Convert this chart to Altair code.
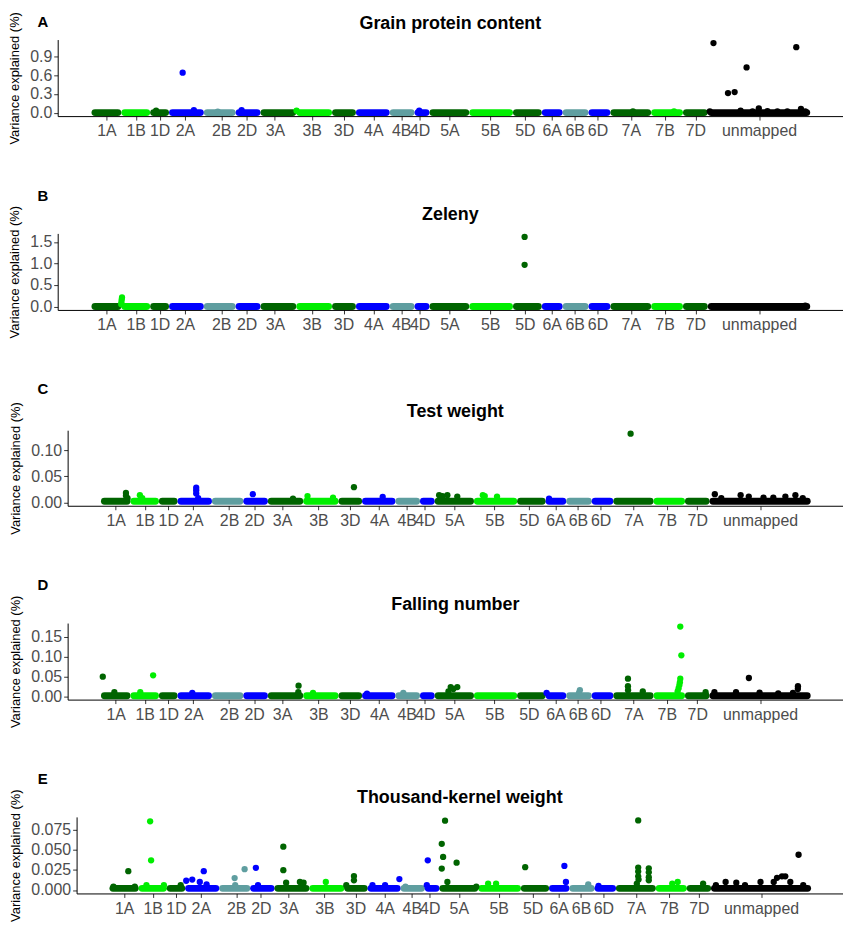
import json
import altair as alt
import pandas as pd

# ---------------- data ----------------
CHROMS = ["1A", "1B", "1D", "2A", "2B", "2D", "3A", "3B", "3D", "4A", "4B", "4D",
          "5A", "5B", "5D", "6A", "6B", "6D", "7A", "7B", "7D", "unmapped"]
CHROM_LEN = [30, 29, 19, 35, 32, 25, 36, 36, 24, 34, 25, 15,
             40, 44, 29, 21, 26, 22, 41, 32, 25, 103]
DKG, LTG, BLU, GRY = "#006400", "#00EE00", "#0000FF", "#5F9EA0"
CHROM_COLORS = [DKG, LTG, DKG, BLU, GRY, BLU, DKG, LTG, DKG, BLU, GRY, BLU,
                DKG, LTG, DKG, BLU, GRY, BLU, DKG, LTG, DKG, "#000000"]
TICK_POS = [15, 44.5, 68.5, 94, 130.5, 156, 184.5, 221.5, 253.5, 283.5, 311.5, 330,
            360, 401, 436, 463, 486, 509, 542.5, 576.5, 607.5, 671.5]

PANEL_LETTERS = ["A", "B", "C", "D", "E"]
PANEL_TITLES = ["Grain protein content", "Zeleny", "Test weight",
                "Falling number", "Thousand-kernel weight"]
BASE_LEVEL = [0.0, 0.0, 0.002, 0.001, 0.002]
Y_TICKS = [[0.0, 0.3, 0.6, 0.9], [0.0, 0.5, 1.0, 1.5], [0.0, 0.05, 0.10],
           [0.0, 0.05, 0.10, 0.15], [0.0, 0.025, 0.05, 0.075]]
Y_FORMATS = [".1f", ".1f", ".2f", ".2f", ".3f"]

# (chromosome, position within chromosome, variance explained)
A_POINTS = [("1D", 6, 0.03), ("2A", 13.7, 0.643), ("2A", 25, 0.04), ("2B", 14, 0.015),
            ("2D", 6, 0.04), ("3B", 0.3, 0.03), ("4D", 4.7, 0.03), ("7A", 22.7, 0.02),
            ("7B", 23, 0.02),
            ("unmapped", 5.7, 1.12), ("unmapped", 89, 1.054), ("unmapped", 39, 0.728),
            ("unmapped", 20.3, 0.315), ("unmapped", 27, 0.331), ("unmapped", 51.3, 0.07),
            ("unmapped", 93.7, 0.06), ("unmapped", 33, 0.03), ("unmapped", 2, 0.02),
            ("unmapped", 45, 0.02), ("unmapped", 60, 0.025), ("unmapped", 70, 0.02),
            ("unmapped", 80, 0.02), ("unmapped", 98, 0.02)]
B_POINTS = [("1B", 0.7, 0.21), ("1B", 0.4, 0.16), ("1B", 0.1, 0.10), ("1B", 0.0, 0.05),
            ("5D", 11.7, 1.62), ("5D", 11.7, 0.97), ("unmapped", 98, 0.02)]
C_POINTS = [("1A", 25.4, 0.018), ("1A", 25.4, 0.0125), ("1A", 27, 0.008),
            ("1B", 9.6, 0.0137), ("1B", 12, 0.008),
            ("2A", 19, 0.028), ("2A", 19, 0.023), ("2A", 19, 0.017), ("2A", 21, 0.008),
            ("2D", 9.7, 0.0156), ("3A", 25.6, 0.007), ("3B", 4.4, 0.012), ("3B", 30.4, 0.009),
            ("3D", 15.7, 0.029), ("4A", 21, 0.0106),
            ("5A", 4.5, 0.0137), ("5A", 8, 0.012), ("5A", 12.9, 0.0137), ("5A", 23, 0.011),
            ("5B", 9, 0.0137), ("5B", 11, 0.012), ("5B", 23.5, 0.011), ("6A", 3.5, 0.007),
            ("7A", 17.6, 0.1318),
            ("unmapped", 5.4, 0.0156), ("unmapped", 12, 0.008), ("unmapped", 31.7, 0.0137),
            ("unmapped", 40, 0.011), ("unmapped", 55, 0.009), ("unmapped", 65, 0.009),
            ("unmapped", 77.3, 0.011), ("unmapped", 87.5, 0.0137), ("unmapped", 95, 0.008)]
D_POINTS = [("1A", 1.8, 0.049), ("1A", 13.6, 0.01), ("1B", 23.1, 0.0525), ("1B", 10, 0.01),
            ("2A", 15, 0.008), ("3A", 31.3, 0.0265), ("3A", 31, 0.01), ("3B", 10, 0.008),
            ("4A", 5, 0.006), ("4B", 8, 0.008),
            ("5A", 16.3, 0.023), ("5A", 23, 0.023), ("5A", 19, 0.018), ("5A", 14, 0.012),
            ("6A", 1, 0.008), ("6B", 13.9, 0.015), ("6B", 13, 0.008),
            ("7A", 14.9, 0.044), ("7A", 14.9, 0.025), ("7A", 15, 0.015), ("7A", 30, 0.012),
            ("7B", 27.2, 0.1758), ("7B", 28.3, 0.103), ("7B", 27.2, 0.044), ("7B", 26.8, 0.035),
            ("7B", 26.3, 0.028), ("7B", 25.5, 0.02), ("7B", 24.5, 0.012), ("7D", 21, 0.01),
            ("unmapped", 40.1, 0.0458), ("unmapped", 90.1, 0.025), ("unmapped", 90, 0.018),
            ("unmapped", 5, 0.01), ("unmapped", 27, 0.01), ("unmapped", 51, 0.009),
            ("unmapped", 70, 0.007), ("unmapped", 85, 0.008)]
E_POINTS = [("1A", 19.3, 0.0235), ("1A", 4, 0.004), ("1A", 26, 0.004),
            ("1B", 11.8, 0.0857), ("1B", 12.8, 0.037), ("1B", 8, 0.006), ("1B", 26, 0.006),
            ("1D", 14.3, 0.006),
            ("2A", 1, 0.0115), ("2A", 7.2, 0.013), ("2A", 19.1, 0.0235), ("2A", 15, 0.010),
            ("2A", 22, 0.007),
            ("2B", 15.9, 0.0148), ("2B", 26.2, 0.026), ("2B", 16.5, 0.006),
            ("2D", 5.8, 0.0276), ("2D", 8, 0.006),
            ("3A", 9.1, 0.054), ("3A", 9.1, 0.0247), ("3A", 12, 0.009), ("3A", 26.2, 0.010),
            ("3A", 30, 0.009), ("3B", 16.9, 0.010),
            ("3D", 9.9, 0.0173), ("3D", 9.9, 0.012), ("3D", 2, 0.006),
            ("4A", 5, 0.006), ("4A", 18, 0.006), ("4A", 32.7, 0.0136), ("4B", 5, 0.004),
            ("4D", 3, 0.037), ("4D", 2, 0.006),
            ("5A", 5.8, 0.0865), ("5A", 2.4, 0.0576), ("5A", 3.8, 0.0412), ("5A", 2.4, 0.0267),
            ("5A", 17.7, 0.0341), ("5A", 8.2, 0.010), ("5A", 38, 0.004),
            ("5B", 10.2, 0.008), ("5B", 18.4, 0.008), ("5D", 4.4, 0.0284),
            ("6A", 15.8, 0.030), ("6A", 17.4, 0.010), ("6B", 19.4, 0.007), ("6D", 4, 0.005),
            ("7A", 22.9, 0.0869), ("7A", 22.9, 0.028), ("7A", 22.9, 0.023), ("7A", 22.9, 0.017),
            ("7A", 23.3, 0.013), ("7A", 21.5, 0.008),
            ("7A", 33.8, 0.027), ("7A", 33.8, 0.022), ("7A", 33.8, 0.016), ("7A", 33.8, 0.012),
            ("7B", 22.6, 0.010), ("7B", 17, 0.008), ("7D", 16.8, 0.008),
            ("unmapped", 90.2, 0.044), ("unmapped", 68, 0.0152), ("unmapped", 73.1, 0.017),
            ("unmapped", 76.5, 0.017), ("unmapped", 64.6, 0.010), ("unmapped", 81.7, 0.010),
            ("unmapped", 51, 0.010), ("unmapped", 15, 0.010), ("unmapped", 26, 0.009),
            ("unmapped", 35, 0.006), ("unmapped", 5, 0.006), ("unmapped", 95, 0.006)]
PANEL_POINTS = [A_POINTS, B_POINTS, C_POINTS, D_POINTS, E_POINTS]

# ---------------- layout (pixels) ----------------
VIEW_WIDTH = 790                      # common view width; origins are aligned
PANEL_HEIGHTS = [77, 77, 76, 77, 77]
AXIS_INSET = [0, 0, 10, 10, 19]       # where each panel's y axis sits inside the view
LETTER_OFFSETS = [18, 38, 41, 38, 38]
TITLE_OFFSETS = [16, 18.5, 18.5, 18.5, 18.5]
FONT = "Liberation Sans"

# ---------------- build ----------------
starts = {}
acc = 0
for c, L in zip(CHROMS, CHROM_LEN):
    starts[c] = acc
    acc += L

label_expr = "{}[indexof({}, datum.value)]".format(json.dumps(CHROMS), json.dumps(TICK_POS))
x_axis = alt.Axis(values=TICK_POS, labelExpr=label_expr, labelOverlap=False,
                  labelFlush=False, labelBound=False, title=None, labelPadding=3)
color_scale = alt.Scale(domain=CHROMS, range=CHROM_COLORS)

panels = []
for i in range(5):
    pts = PANEL_POINTS[i]
    inset = AXIS_INSET[i]
    vmax = max(v for _, _, v in pts)
    x_scale = alt.Scale(domain=[-34, 756], range=[inset, VIEW_WIDTH], nice=False, zero=False)
    y_scale = alt.Scale(domain=[-0.05 * vmax, 1.05 * vmax], nice=False, zero=False)
    y_axis = alt.Axis(values=Y_TICKS[i], format=Y_FORMATS[i], offset=-inset,
                      title="Variance explained (%)", titlePadding=8, labelPadding=2)

    base_df = pd.DataFrame({
        "chrom": CHROMS,
        "x1": [starts[c] + 3.5 for c in CHROMS],
        "x2": [starts[c] + L - 3.5 for c, L in zip(CHROMS, CHROM_LEN)],
        "y": [BASE_LEVEL[i]] * len(CHROMS),
    })
    pts_df = pd.DataFrame({
        "chrom": [c for c, _, _ in pts],
        "x": [starts[c] + p for c, p, _ in pts],
        "v": [v for _, _, v in pts],
    })

    band = alt.Chart(base_df).mark_rule(strokeWidth=7, strokeCap="round").encode(
        x=alt.X("x1:Q", scale=x_scale, axis=x_axis),
        x2="x2:Q",
        y=alt.Y("y:Q", scale=y_scale, axis=y_axis),
        color=alt.Color("chrom:N", scale=color_scale, legend=None),
    )
    dots = alt.Chart(pts_df).mark_circle(size=40, opacity=1).encode(
        x=alt.X("x:Q", scale=x_scale, axis=x_axis),
        y=alt.Y("v:Q", scale=y_scale, axis=y_axis),
        color=alt.Color("chrom:N", scale=color_scale, legend=None),
    )
    letter = alt.Chart(pd.DataFrame({"t": [PANEL_LETTERS[i]]})).mark_text(
        font=FONT, fontSize=15, fontWeight="bold", align="center", baseline="middle",
        color="black",
    ).encode(x=alt.value(-15), y=alt.value(-LETTER_OFFSETS[i]), text="t:N")
    title = alt.Chart(pd.DataFrame({"t": [PANEL_TITLES[i]]})).mark_text(
        font=FONT, fontSize=18, fontWeight="bold", align="center", baseline="middle",
        color="black",
    ).encode(x=alt.value((inset + VIEW_WIDTH) / 2), y=alt.value(-TITLE_OFFSETS[i]),
             text="t:N")

    panels.append(alt.layer(band, dots, letter, title).properties(
        width=VIEW_WIDTH, height=PANEL_HEIGHTS[i]))

chart = alt.vconcat(*panels, spacing=44).properties(
    padding={"left": 0, "top": 0, "right": 0, "bottom": 0}
).configure_view(stroke=None).configure_axis(
    grid=False, domainColor="black", domainWidth=1, tickColor="#333333", tickSize=4,
    labelColor="#4D4D4D", labelFont=FONT, labelFontSize=16,
    titleFont=FONT, titleFontSize=13, titleFontWeight="normal", titleColor="black",
)

chart.save("out.html", embed_options={"renderer": "svg", "actions": False})
